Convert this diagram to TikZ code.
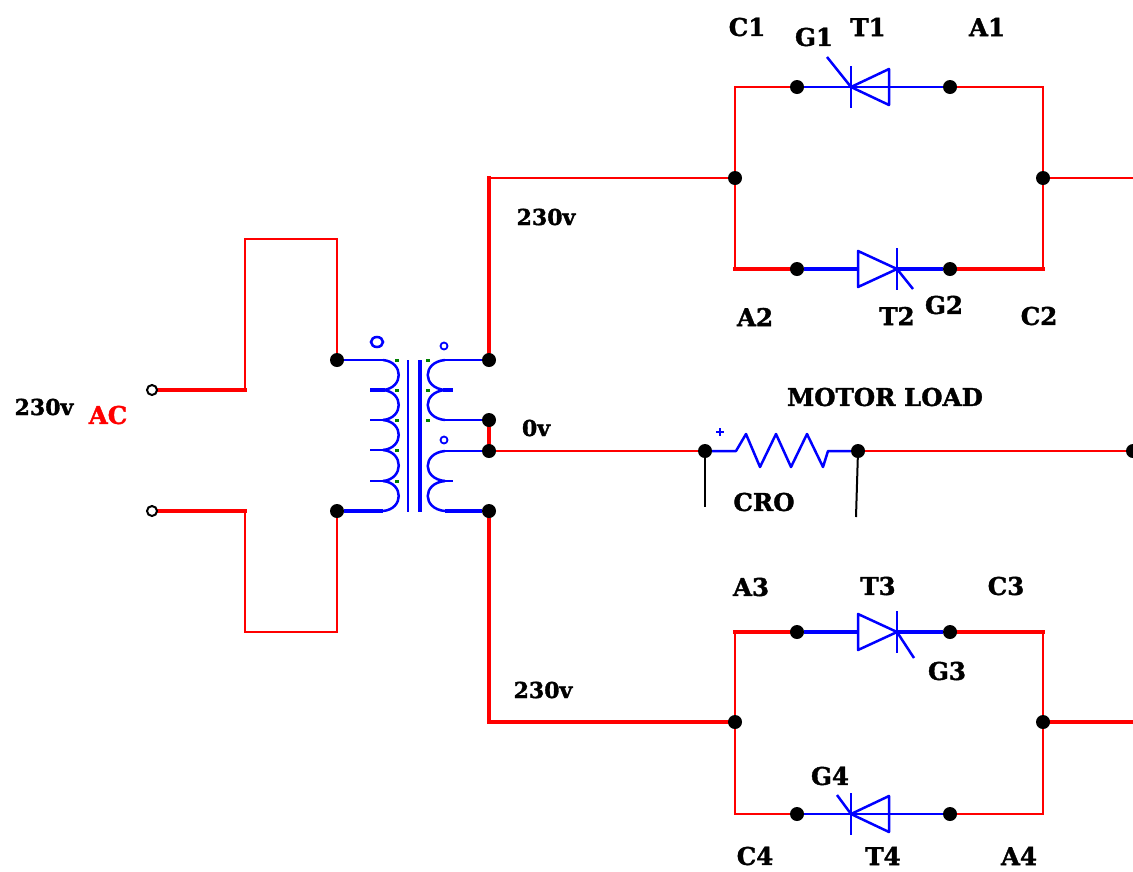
\documentclass[tikz,border=0pt]{standalone}
\usepackage{fontspec}
\setmainfont{DejaVu Serif}[BoldFeatures={FakeBold=1.5}]
\usepackage{xcolor}
\usetikzlibrary{backgrounds}
\definecolor{wirered}{RGB}{255,0,0}
\definecolor{coilblue}{RGB}{0,0,255}
\definecolor{speckgreen}{RGB}{0,128,0}

\tikzset{
  dot/.style={circle,fill=black,inner sep=0pt,minimum size=14pt},
  terminal/.style={circle,draw=black,fill=white,line width=2pt,inner sep=0pt,minimum size=10pt},
  wire/.style={draw=wirered,line width=2.8pt,line cap=rect},
  fatwire/.style={draw=wirered,line width=4pt,line cap=rect},
  coil/.style={draw=coilblue,line width=2.5pt},
  fatcoil/.style={draw=coilblue,line width=4pt},
  probe/.style={draw=black,line width=2pt},
  lbl/.style={inner sep=0pt,font=\bfseries\fontsize{24.5}{28}\selectfont},
  volt/.style={inner sep=0pt,font=\bfseries\fontsize{22}{26}\selectfont},
  pics/scr/.style args={#1/#2/#3}{code={
    \draw[coil,line join=round] (0,0) -- (#1,-18) -- (#1,18) -- cycle;
    \draw[coil] (0,-21) -- (0,21);
    \draw[coil] (0,0) -- (#2,#3);
  }}
}

\begin{document}
\begin{tikzpicture}[x=1pt,y=-1pt]
    \useasboundingbox (0,0) rectangle (1133,871);

    \node[terminal] (in1) at (152,390) {};
    \node[terminal] (in2) at (152,511) {};
    \node[dot] (pa) at (337,360) {};
    \node[dot] (pb) at (337,511) {};
    \node[dot] (sa) at (489,360) {};
    \node[dot] (sb) at (489,420) {};
    \node[dot] (sc) at (489,451) {};
    \node[dot] (sd) at (489,511) {};
    \node[dot] (upl) at (735,178) {};
    \node[dot] (upr) at (1043,178) {};
    \node[dot] (lol) at (735,722) {};
    \node[dot] (lor) at (1043,722) {};
    \node[dot] (c1) at (797,87) {};
    \node[dot] (a1) at (950,87) {};
    \node[dot] (a2) at (797,269) {};
    \node[dot] (c2) at (950,269) {};
    \node[dot] (a3) at (797,632) {};
    \node[dot] (c3) at (950,632) {};
    \node[dot] (c4) at (797,814) {};
    \node[dot] (a4) at (950,814) {};
    \node[dot] (ml) at (705,451) {};
    \node[dot] (mr) at (858,451) {};
    \node[dot] (me) at (1133,451) {};

    \coordinate (eu) at (1133,178);
    \coordinate (el) at (1133,722);
    \coordinate (cl) at (705,507);
    \coordinate (cr) at (856,517);
    \coordinate (ub) at (489,178);
    \coordinate (lb) at (489,722);
    \coordinate (cnw) at (735,87);
    \coordinate (cne) at (1043,87);
    \coordinate (cmw) at (735,269);
    \coordinate (cme) at (1043,269);
    \coordinate (cpw) at (735,632);
    \coordinate (cpe) at (1043,632);
    \coordinate (csw) at (735,814);
    \coordinate (cse) at (1043,814);
    \coordinate (ina) at (245,390);
    \coordinate (inb) at (245,511);
    \coordinate (tpa) at (245,239);
    \coordinate (tpb) at (337,239);
    \coordinate (bta) at (245,632);
    \coordinate (btb) at (337,632);

    \begin{pgfonlayer}{background}
      % supply side
      \draw[fatwire] (in1) -- (ina);
      \draw[wire] (ina) -- (tpa) -- (tpb) -- (pa);
      \draw[fatwire] (in2) -- (inb);
      \draw[wire] (inb) -- (bta) -- (btb) -- (pb);

      % secondary to the bridges
      \draw[fatwire] (sa) -- (ub);
      \draw[wire] (ub) -- (upl);
      \draw[fatwire] (sd) -- (lb) -- (lol);
      \draw[fatwire] (sb) -- (sc);
      \draw[wire] (sc) -- (ml);
      \draw[wire] (mr) -- (me);
      \draw[wire] (upr) -- (eu);
      \draw[fatwire] (lor) -- (el);

      \draw[wire] (upl) -- (cnw) -- (c1);
      \draw[wire] (upl) -- (cmw);
      \draw[fatwire] (cmw) -- (a2);
      \draw[wire] (upr) -- (cne) -- (a1);
      \draw[wire] (upr) -- (cme);
      \draw[fatwire] (cme) -- (c2);
      \draw[wire] (lol) -- (cpw);
      \draw[fatwire] (cpw) -- (a3);
      \draw[wire] (lol) -- (csw) -- (c4);
      \draw[wire] (lor) -- (cpe);
      \draw[fatwire] (cpe) -- (c3);
      \draw[wire] (lor) -- (cse) -- (a4);
    \end{pgfonlayer}

    % thyristors
    \draw[coil] (c1) -- (a1);
    \draw[fatcoil] (a2) -- (858,269);
    \draw[fatcoil] (897,269) -- (c2);
    \draw[fatcoil] (a3) -- (858,632);
    \draw[fatcoil] (897,632) -- (c3);
    \draw[coil] (c4) -- (a4);
    \pic at (851,87) {scr=38/-24/-30};
    \pic at (897,269) {scr=-39/16/20};
    \pic at (897,632) {scr=-39/17/26};
    \pic at (851,814) {scr=38/-14/-19};

    % load
    \draw[coil,line join=round] (ml) -- (736,451) -- (746,434) -- (760,467) -- (776,434) -- (791,467) -- (807,434) -- (823,467) -- (828,451) -- (mr);
    \draw[coil,line width=1.5pt] (716,432) -- (724,432) (720,428) -- (720,436);
    \draw[probe] (ml) -- (cl);
    \draw[probe] (mr) -- (cr);

    % transformer
    \draw[coil] (pa) -- (383,360);
    \draw[fatcoil] (pb) -- (383,511);
    \foreach \ya/\yb in {360/390,390/420,420/450,450/481,481/511}
      \draw[coil] (383,\ya) .. controls (404,\ya+2) and (404,\yb-2) .. (383,\yb);
    \draw[fatcoil] (370,390) -- (385,390);
    \foreach \yt in {420,450,481}
      \draw[coil,line width=1.5pt] (370,\yt) -- (385,\yt);
    \draw[coil] (408,360) -- (408,512);
    \draw[coil,line width=4pt] (420,360) -- (420,512);
    \foreach \ya/\yb in {360/390,390/420,451/481,481/511}
      \draw[coil] (445,\ya) .. controls (422,\ya+2) and (422,\yb-2) .. (445,\yb);
    \draw[coil] (sa) -- (445,360);
    \draw[coil] (sb) -- (445,420);
    \draw[coil] (sc) -- (445,451);
    \draw[fatcoil] (sd) -- (445,511);
    \draw[fatcoil] (443,390) -- (453,390);
    \draw[coil,line width=1.5pt] (443,481) -- (453,481);
    \draw[coil,line width=2.5pt] (377,342) ellipse (6pt and 5pt);
    \draw[coil,line width=1.8pt] (444,346) circle (3.5pt);
    \draw[coil,line width=1.8pt] (444,440) circle (3.5pt);
    \foreach \px/\py in {397/360,397/390,397/420,397/450,397/481,428/360,428/390,428/420}
      \fill[speckgreen] (\px-2,\py-1.5) rectangle (\px+2,\py+1.5);

    % labels
    \node[lbl] (lc1) at (747,27) {C1};
    \node[lbl] (lg1) at (814,37) {G1};
    \node[lbl] (lt1) at (868,27) {T1};
    \node[lbl] (la1) at (987,27) {A1};
    \node[volt] (lup) at (546,217) {230v};
    \node[lbl] (la2) at (755,317) {A2};
    \node[lbl] (lt2) at (897,316) {T2};
    \node[lbl] (lg2) at (944,305) {G2};
    \node[lbl] (lc2) at (1039,316) {C2};
    \node[lbl] (lmo) at (885,397) {MOTOR LOAD};
    \node[volt] (lzv) at (536,428) {0v};
    \node[volt] (lin) at (44,407) {230v};
    \node[lbl,text=wirered] (lac) at (108,415) {AC};
    \node[lbl] (lcr) at (764,502) {CRO};
    \node[lbl] (la3) at (751,587) {A3};
    \node[lbl] (lt3) at (878,586) {T3};
    \node[lbl] (lc3) at (1006,586) {C3};
    \node[lbl] (lg3) at (947,671) {G3};
    \node[volt] (llo) at (543,690) {230v};
    \node[lbl] (lg4) at (830,776) {G4};
    \node[lbl] (lc4) at (755,856) {C4};
    \node[lbl] (lt4) at (883,856) {T4};
    \node[lbl] (la4) at (1019,856) {A4};
\end{tikzpicture}
\end{document}
